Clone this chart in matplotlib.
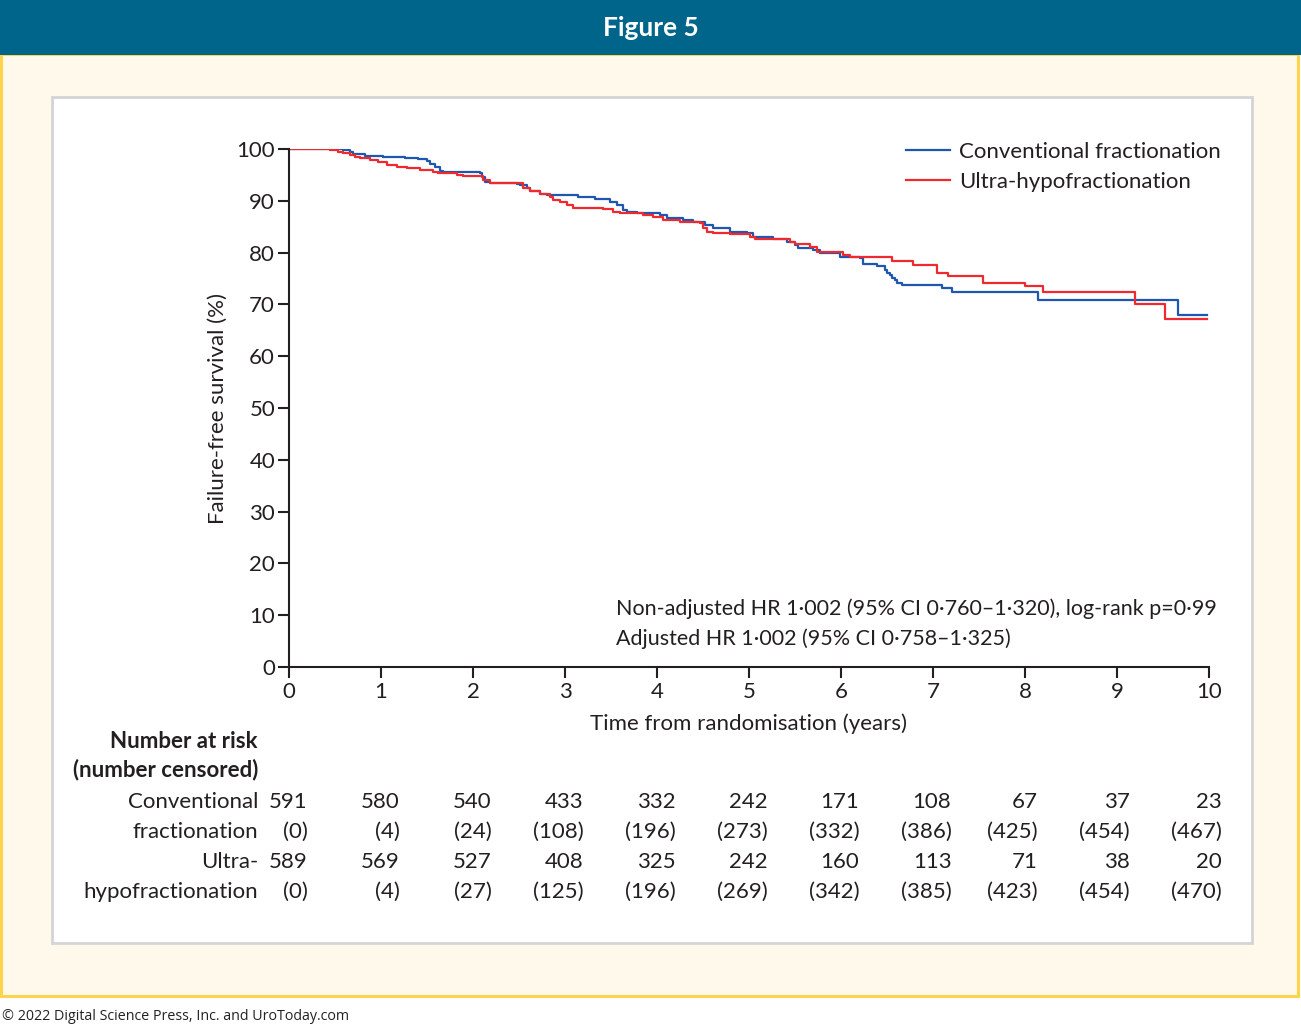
import matplotlib
matplotlib.use("Agg")
import matplotlib.pyplot as plt
from matplotlib.patches import Rectangle

plt.rcParams['font.family'] = ['Lato', 'DejaVu Sans']

W, H = 1301, 1027

# ---------------- data ----------------
conv_t = [0, 0.587, 0.663, 0.696, 0.826, 1.022, 1.261, 1.402, 1.500, 1.533, 1.587, 1.641,
          1.674, 2.076, 2.098, 2.130, 2.185, 2.370, 2.478, 2.511, 2.587, 2.620, 2.728, 2.804,
          3.141, 3.326, 3.489, 3.565, 3.630, 3.674, 3.783, 4.033, 4.109, 4.283, 4.391, 4.522,
          4.609, 4.793, 4.978, 5.043, 5.261, 5.413, 5.500, 5.533, 5.696, 5.772, 5.989, 6.207,
          6.239, 6.391, 6.478, 6.500, 6.533, 6.554, 6.587, 6.609, 6.663, 7.098, 7.207, 8.141,
          9.663, 9.98]
conv_s = [100, 99.8, 99.4, 99.0, 98.7, 98.5, 98.2, 98.0, 97.7, 97.2, 96.6, 95.8,
          95.6, 95.3, 94.6, 93.7, 93.5, 93.4, 93.2, 93.1, 92.4, 91.8, 91.4, 91.1,
          90.8, 90.3, 89.8, 89.2, 88.2, 87.9, 87.6, 87.3, 86.6, 86.3, 86.0, 85.3,
          84.7, 84.0, 83.7, 83.1, 82.6, 82.1, 81.5, 80.8, 80.5, 80.0, 79.2, 78.9,
          77.8, 77.4, 76.6, 76.1, 75.7, 75.1, 74.7, 74.1, 73.7, 73.2, 72.4, 70.8,
          67.95, 67.95]

ultra_t = [0, 0.446, 0.533, 0.587, 0.663, 0.717, 0.772, 0.880, 0.967, 1.065, 1.174, 1.283,
           1.424, 1.565, 1.620, 1.826, 1.891, 2.076, 2.109, 2.185, 2.26, 2.543, 2.620, 2.728,
           2.837, 2.870, 2.946, 3.022, 3.087, 3.413, 3.522, 3.598, 3.848, 3.957, 4.065, 4.250,
           4.467, 4.500, 4.543, 4.609, 4.793, 5.011, 5.065, 5.446, 5.500, 5.663, 5.739, 6.022,
           6.098, 6.554, 6.783, 7.043, 7.163, 7.543, 8.000, 8.196, 9.196, 9.522, 9.98]
ultra_s = [100, 99.8, 99.5, 99.2, 98.8, 98.5, 98.2, 97.9, 97.5, 96.9, 96.6, 96.3,
           95.9, 95.6, 95.3, 95.0, 94.8, 94.7, 94.0, 93.5, 93.4, 92.4, 91.8, 91.3,
           90.8, 90.2, 89.8, 89.2, 88.7, 88.4, 87.9, 87.6, 87.3, 86.9, 86.3, 86.0,
           85.7, 84.7, 84.0, 83.7, 83.5, 83.1, 82.6, 82.1, 81.7, 81.1, 80.2, 79.5,
           79.1, 78.4, 77.6, 76.1, 75.5, 74.1, 73.6, 72.4, 70.1, 67.2, 67.2]

series_names = ["Conventional fractionation", "Ultra-hypofractionation"]
x_ticks = list(range(0, 11))
y_ticks = list(range(0, 101, 10))

risk_conv = [591, 580, 540, 433, 332, 242, 171, 108, 67, 37, 23]
cens_conv = [0, 4, 24, 108, 196, 273, 332, 386, 425, 454, 467]
risk_ultra = [589, 569, 527, 408, 325, 242, 160, 113, 71, 38, 20]
cens_ultra = [0, 4, 27, 125, 196, 269, 342, 385, 423, 454, 470]

stats_lines = ["Non-adjusted HR 1\u00b7002 (95% CI 0\u00b7760\u20131\u00b7320), log-rank p=0\u00b799",
               "Adjusted HR 1\u00b7002 (95% CI 0\u00b7758\u20131\u00b7325)"]

BLUE = "#1f57b0"
RED = "#ef2a2e"
TXT = "#231f20"

# ---------------- figure ----------------
fig = plt.figure(figsize=(W / 100, H / 100), dpi=100)
fig.patch.set_facecolor("white")


def fx(x):
    return x / W


def fy(y):
    return 1 - y / H


def rect(x0, y0, x1, y1, **kw):
    fig.patches.append(Rectangle((fx(x0), fy(y1)), fx(x1) - fx(x0), fy(y0) - fy(y1),
                                 transform=fig.transFigure, figure=fig, **kw))


# yellow panel
rect(1.5, 54, 1298.5, 995.5, facecolor="#fff9eb", edgecolor="#ffd34a", linewidth=2.2, zorder=0)
# banner
rect(0, 0, 1301, 55, facecolor="#00658b", edgecolor="none", zorder=1)
fig.text(0.5, fy(28), "Figure 5", color="white", fontsize=19, fontweight="bold",
         ha="center", va="center")
# white inner box
rect(52, 97, 1252, 943, facecolor="white", edgecolor="#d4d4d4", linewidth=2, zorder=1)
# copyright
fig.text(fx(2), fy(1016), "\u00a9 2022 Digital Science Press, Inc. and UroToday.com",
         color="#222222", fontsize=10.3, ha="left", va="center",
         family=["Open Sans", "DejaVu Sans"])

# ---------------- axes ----------------
ax = fig.add_axes([fx(289), fy(667), fx(1209) - fx(289), fy(149) - fy(667)])
ax.set_facecolor("none")
ax.set_zorder(3)
ax.step(conv_t, conv_s, where="post", color=BLUE, lw=1.6, label=series_names[0])
ax.step(ultra_t, ultra_s, where="post", color=RED, lw=1.6, label=series_names[1])
ax.set_xlim(0, 10)
ax.set_ylim(0, 100)
ax.set_xticks(x_ticks)
ax.set_yticks(y_ticks)
for s in ["top", "right"]:
    ax.spines[s].set_visible(False)
for s in ["left", "bottom"]:
    ax.spines[s].set_linewidth(1.5)
    ax.spines[s].set_color(TXT)
ax.tick_params(axis="both", direction="out", length=8, width=1.5, color=TXT,
               labelsize=16, labelcolor=TXT)
ax.tick_params(axis="x", pad=3)
ax.tick_params(axis="y", pad=2)
ax.set_xlabel("Time from randomisation (years)", fontsize=16, color=TXT, labelpad=8)
ax.set_ylabel("Failure-free survival (%)", fontsize=16, color=TXT, labelpad=6)

leg = ax.legend(loc="upper right", bbox_to_anchor=(1.013, 1.013), frameon=False,
                fontsize=16, handlelength=2.0, handletextpad=0.4, labelspacing=0.43,
                borderaxespad=0, borderpad=0, labelcolor=TXT)

ax.text(0.3554, 0.113, stats_lines[0], transform=ax.transAxes, ha="left", va="center",
        fontsize=15.5, color=TXT)
ax.text(0.3554, 0.055, stats_lines[1], transform=ax.transAxes, ha="left", va="center",
        fontsize=15.5, color=TXT)

# ---------------- number at risk table ----------------
def tx(t):
    return ax.transData.transform((t, 0))[0] / fig.dpi / (W / 100)


fig.text(fx(258), fy(741), "Number at risk", ha="right", va="center", fontsize=16,
         fontweight="bold", color=TXT)
fig.text(fx(258), fy(770), "(number censored)", ha="right", va="center", fontsize=16,
         fontweight="bold", color=TXT)
row_labels = ["Conventional", "fractionation", "Ultra-", "hypofractionation"]
row_y = [801.5, 831.5, 861.5, 891.5]
for lab, yy in zip(row_labels, row_y):
    fig.text(fx(258), fy(yy), lab, ha="right", va="center", fontsize=16, color=TXT)

rows = [[str(v) for v in risk_conv], ["(%d)" % v for v in cens_conv],
        [str(v) for v in risk_ultra], ["(%d)" % v for v in cens_ultra]]
for row, yy in zip(rows, row_y):
    for t, s in zip(x_ticks, row):
        off = 0.2 if t < 8 else 0.135
        fig.text(tx(t + off), fy(yy), s, ha="right", va="center", fontsize=16, color=TXT)

fig.savefig("out.png", dpi=100, facecolor=fig.get_facecolor())
